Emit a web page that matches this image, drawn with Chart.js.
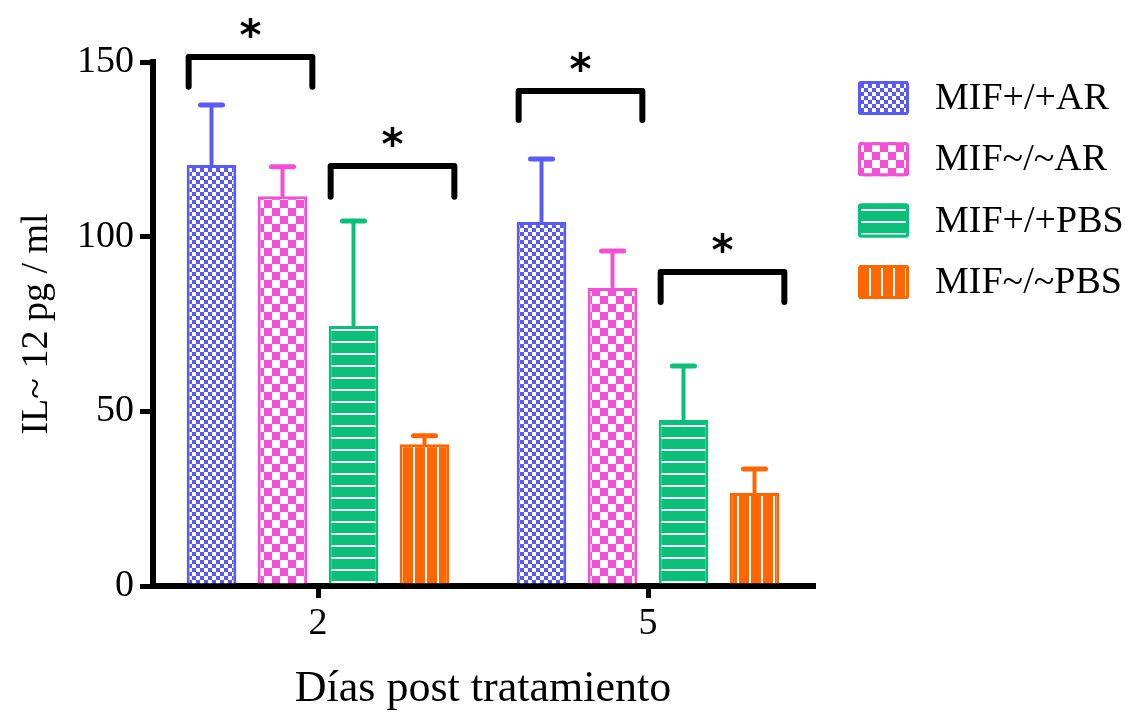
<!DOCTYPE html>
<html><head><meta charset="utf-8">
<script src="https://cdn.jsdelivr.net/npm/chart.js@4/dist/chart.umd.min.js"></script>
<style>html,body{margin:0;padding:0;background:#fff;} canvas{display:block;}</style>
</head><body>
<canvas id="c" width="1125" height="716"></canvas>
<script>
// ---- data ----
const categories = ['2', '5'];
const seriesLabels = ['MIF+/+AR', 'MIF~/~AR', 'MIF+/+PBS', 'MIF~/~PBS'];
const mifPosAR  = [120.5, 104.2];
const mifNegAR  = [111.6, 85.3];
const mifPosPBS = [74.4, 47.5];
const mifNegPBS = [40.6, 26.6];
const sdPosAR  = [17.2, 18.0];
const sdNegAR  = [8.4, 10.6];
const sdPosPBS = [30.1, 15.5];
const sdNegPBS = [2.4, 6.9];
const yTicks = [0, 50, 100, 150];
const xTitle = 'Días post tratamiento';
const yTitle = 'IL~ 12 pg / ml';
// significance brackets: category, first dataset, last dataset, bracket level, leg end (data units)
const bracketCat  = [0, 0, 1, 1];
const bracketFrom = [0, 2, 0, 2];
const bracketTo   = [1, 3, 1, 3];
const bracketTop  = [151.4, 120.2, 141.7, 89.9];
const bracketEnd  = [142.9, 111.4, 133.4, 81.3];

// ---- styles ----
const colors = ['#5A5AF4', '#F24FD6', '#0ABF78', '#FF6600'];
const FONT = '"Liberation Serif", "Times New Roman", serif';

function makePattern(kind, color) {
  const c = document.createElement('canvas');
  const x = c.getContext('2d');
  if (kind === 'checkSmall') {
    c.width = 8; c.height = 8;
    x.fillStyle = '#fff'; x.fillRect(0, 0, 8, 8);
    x.fillStyle = color; x.fillRect(0, 0, 4, 4); x.fillRect(4, 4, 4, 4);
  } else if (kind === 'checkLarge') {
    c.width = 16; c.height = 16;
    x.fillStyle = '#fff'; x.fillRect(0, 0, 16, 16);
    x.fillStyle = color; x.fillRect(0, 0, 8, 8); x.fillRect(8, 8, 8, 8);
  } else if (kind === 'hlines') {
    c.width = 12; c.height = 12;
    x.fillStyle = color; x.fillRect(0, 0, 12, 12);
    x.fillStyle = '#fff'; x.fillRect(0, 5, 12, 2);
  } else {
    c.width = 12; c.height = 12;
    x.fillStyle = color; x.fillRect(0, 0, 12, 12);
    x.fillStyle = '#fff'; x.fillRect(5, 0, 2, 12);
  }
  return x.createPattern(c, 'repeat');
}
const kinds = ['checkSmall', 'checkLarge', 'hlines', 'vlines'];
const patterns = kinds.map((k, i) => makePattern(k, colors[i]));

const values = [mifPosAR, mifNegAR, mifPosPBS, mifNegPBS];
const sds = [sdPosAR, sdNegAR, sdPosPBS, sdNegPBS];

const errorBarPlugin = {
  id: 'errorBars',
  afterDatasetsDraw(chart) {
    const ctx = chart.ctx, ys = chart.scales.y;
    chart.data.datasets.forEach((ds, di) => {
      const meta = chart.getDatasetMeta(di);
      meta.data.forEach((bar, i) => {
        const top = ys.getPixelForValue(ds.data[i] + ds.sd[i]);
        ctx.save();
        ctx.strokeStyle = ds.borderColor;
        ctx.lineCap = 'round';
        ctx.lineWidth = 4;
        ctx.beginPath(); ctx.moveTo(bar.x, bar.y - 1); ctx.lineTo(bar.x, top); ctx.stroke();
        ctx.lineWidth = 5;
        ctx.beginPath(); ctx.moveTo(bar.x - 11, top); ctx.lineTo(bar.x + 11, top); ctx.stroke();
        ctx.restore();
      });
    });
  }
};

const bracketPlugin = {
  id: 'brackets',
  afterDatasetsDraw(chart) {
    const ctx = chart.ctx, ys = chart.scales.y;
    bracketCat.forEach((cat, k) => {
      const a = chart.getDatasetMeta(bracketFrom[k]).data[cat];
      const b = chart.getDatasetMeta(bracketTo[k]).data[cat];
      const x1 = a.x - a.width / 2 + 2, x2 = b.x + b.width / 2 + 5;
      const yt = ys.getPixelForValue(bracketTop[k]);
      const ye = ys.getPixelForValue(bracketEnd[k]);
      ctx.save();
      ctx.strokeStyle = '#000'; ctx.lineWidth = 6; ctx.lineCap = 'round'; ctx.lineJoin = 'round';
      ctx.beginPath(); ctx.moveTo(x1, ye); ctx.lineTo(x1, yt); ctx.lineTo(x2, yt); ctx.lineTo(x2, ye); ctx.stroke();
      ctx.font = 'bold 42px "DejaVu Sans", sans-serif';
      ctx.fillStyle = '#000'; ctx.textAlign = 'center'; ctx.textBaseline = 'alphabetic';
      const m = ctx.measureText('*');
      const cy = yt - 29;
      const base = cy + (m.actualBoundingBoxAscent - m.actualBoundingBoxDescent) / 2;
      ctx.fillText('*', (x1 + x2) / 2, base);
      ctx.restore();
    });
  }
};

const legendPlugin = {
  id: 'customLegend',
  afterDraw(chart) {
    const ctx = chart.ctx;
    chart.data.datasets.forEach((ds, i) => {
      const bx = 858, by = 81 + i * 61.3, bw = 51, bh = 34;
      ctx.save();
      ctx.beginPath();
      ctx.roundRect(bx, by, bw, bh, 3);
      ctx.fillStyle = ds.backgroundColor;
      ctx.fill();
      ctx.lineWidth = 3; ctx.strokeStyle = ds.borderColor;
      ctx.beginPath(); ctx.roundRect(bx + 1.5, by + 1.5, bw - 3, bh - 3, 2); ctx.stroke();
      ctx.fillStyle = '#000';
      ctx.font = '38px ' + FONT;
      ctx.textAlign = 'left'; ctx.textBaseline = 'middle';
      ctx.fillText(ds.label, 935, by + bh / 2 + 1);
      ctx.restore();
    });
  }
};

new Chart(document.getElementById('c'), {
  type: 'bar',
  data: {
    labels: categories,
    datasets: seriesLabels.map((lab, i) => ({
      label: lab,
      data: values[i],
      sd: sds[i],
      backgroundColor: patterns[i],
      borderColor: colors[i],
      borderWidth: 3,
      categoryPercentage: 0.8606,
      barPercentage: 0.70
    }))
  },
  options: {
    responsive: false,
    animation: false,
    devicePixelRatio: 1,
    layout: { padding: { top: 62, right: 312, left: 0, bottom: 0 } },
    plugins: { legend: { display: false }, tooltip: { enabled: false } },
    scales: {
      x: {
        afterFit(s) { s.height = 130; },
        border: { display: true, color: '#000', width: 6 },
        grid: { display: true, offset: false, drawOnChartArea: false, drawTicks: true, tickLength: 12, lineWidth: 5, color: '#000' },
        ticks: { color: '#000', font: { family: FONT, size: 38 }, padding: 3 },
        title: { display: true, text: xTitle, color: '#000', font: { family: FONT, size: 44 }, padding: { top: 0, bottom: 0 } }
      },
      y: {
        min: 0, max: 150,
        afterFit(s) { s.width = 153; },
        afterBuildTicks(s) { s.ticks = yTicks.map(v => ({ value: v })); },
        border: { display: true, color: '#000', width: 6 },
        grid: { display: true, drawOnChartArea: false, drawTicks: true, tickLength: 13, lineWidth: 5, color: '#000' },
        ticks: { color: '#000', font: { family: FONT, size: 38 }, padding: 6 },
        title: { display: true, text: yTitle, color: '#000', font: { family: FONT, size: 38 }, padding: { top: 14, bottom: 0 } }
      }
    }
  },
  plugins: [errorBarPlugin, bracketPlugin, legendPlugin]
});
</script>
</body></html>
